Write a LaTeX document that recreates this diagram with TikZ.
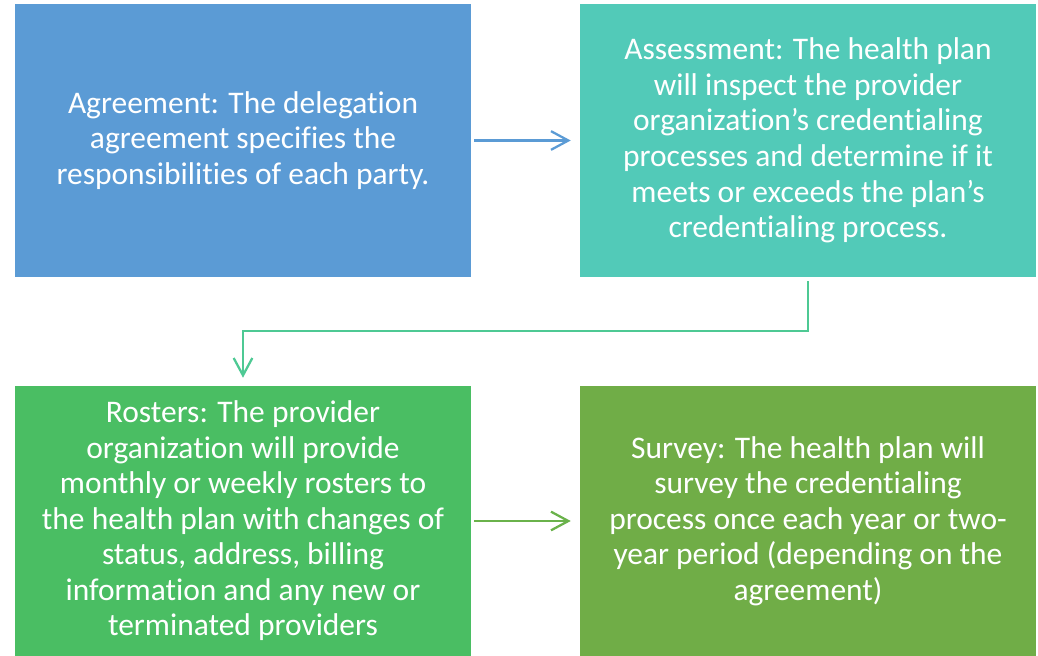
\documentclass[tikz,border=0pt]{standalone}
\usepackage{fontspec}
\setmainfont[Ligatures=NoCommon]{Carlito}
\usetikzlibrary{arrows.meta}
\definecolor{cblue}{HTML}{5B9BD5}
\definecolor{cteal}{HTML}{52CAB8}
\definecolor{cgreen}{HTML}{4ABE63}
\definecolor{colive}{HTML}{70AD47}
\definecolor{aelbow}{HTML}{4EC994}
\definecolor{agreen}{HTML}{6AB24B}
\tikzset{
  boxstyle/.style={rectangle, inner sep=0pt, minimum width=342pt, align=center,
    text=white, font=\fontsize{23.6}{26.65}\selectfont},
  arr/.style={line width=1.7pt, -{Straight Barb[length=13pt,width=14pt,line width=1.7pt]}}
}
\begin{document}
\begin{tikzpicture}[x=0.75pt,y=-0.75pt]
\useasboundingbox (0,0) rectangle (1038,656);
\node[boxstyle, fill=cblue, minimum height=204.75pt] (b1) at (243,140.5)
  {Agreement: The delegation\\agreement specifies the\\responsibilities of each party.};
\node[boxstyle, fill=cteal, minimum height=204.75pt] (b2) at (808,140.5)
  {Assessment: The health plan\\will inspect the provider\\organization’s credentialing\\processes and determine if it\\meets or exceeds the plan’s\\credentialing process.};
\node[boxstyle, fill=cgreen, minimum height=202.5pt] (b3) at (243,521)
  {Rosters: The provider\\organization will provide\\monthly or weekly rosters to\\the health plan with changes of\\status, address, billing\\information and any new or\\terminated providers};
\node[boxstyle, fill=colive, minimum height=202.5pt] (b4) at (808,521)
  {Survey: The health plan will\\survey the credentialing\\process once each year or two-\\year period (depending on the\\agreement)};
\draw[arr, cblue, shorten <=2.25pt, shorten >=6.75pt] (b1.east) -- (b2.west);
\draw[arr, aelbow, shorten <=3pt, shorten >=6pt] (b2.south) -- ++(0,54) -| (b3.north);
\draw[arr, agreen, shorten <=2.25pt, shorten >=6.75pt] (b3.east) -- (b4.west);
\end{tikzpicture}
\end{document}
